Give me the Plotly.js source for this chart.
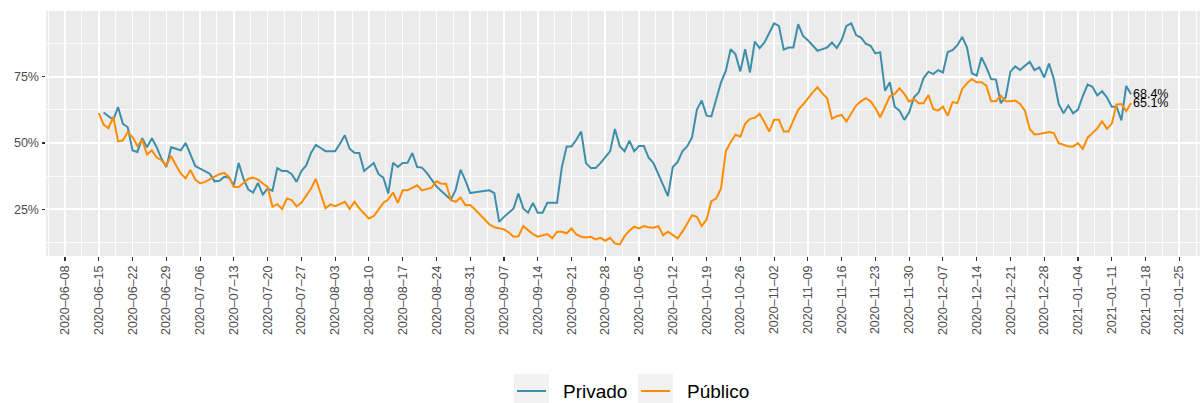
<!DOCTYPE html>
<html>
<head>
<meta charset="utf-8">
<script src="https://cdn.plot.ly/plotly-3.0.1.min.js"></script>
<style>html,body{margin:0;padding:0;background:#fff;}#chart{width:1200px;height:403px;}</style>
</head>
<body>
<div id="chart"></div>
<script>
// ---- data (values in %) ----
const publicoStart = '2020-06-15';
const publicoValues = [
61.3,56.9,55.6,59.8,50.6,51.0,54.1,52.2,48.9,51.2,45.6,47.2,44.5,43.5,41.4,45.1,41.6,38.5,36.6,39.8,
36.2,34.7,35.3,36.3,37.2,38.2,38.7,37.2,33.4,33.4,34.9,36.5,36.9,36.2,34.7,33.4,25.9,26.9,25.1,29.0,
28.4,26.1,27.4,30.3,32.8,36.4,30.9,25.3,26.8,26.1,26.9,27.8,25.1,27.8,25.3,23.4,21.5,22.4,24.9,27.4,
28.6,31.3,27.4,32.1,32.1,33.1,34.0,32.1,32.5,33.1,35.5,34.6,34.6,28.4,27.8,29.4,26.5,26.6,24.9,23.0,
20.9,19.2,18.2,17.8,17.4,16.2,14.6,14.8,18.6,17.1,15.6,14.6,15.2,15.6,14.0,16.5,16.5,15.9,17.7,15.5,
14.6,14.3,14.6,13.6,14.2,13.1,14.2,12.1,11.7,14.8,16.9,18.4,17.7,18.6,18.2,18.0,18.6,15.2,16.5,15.2,
14.0,16.5,19.4,22.7,22.1,18.6,21.1,28.0,29.0,32.8,46.9,50.3,53.1,52.4,57.2,59.1,59.5,61.0,57.8,54.3,
58.8,58.8,54.3,54.3,58.5,62.5,64.5,66.9,69.1,71.0,68.7,66.9,59.1,60.1,60.6,58.1,61.2,64.1,65.7,66.9,
65.7,63.2,59.7,63.5,67.6,68.5,70.6,68.5,65.6,66.6,65.0,65.0,68.1,62.8,62.2,63.7,60.3,65.4,65.0,70.4,
72.5,74.1,72.9,72.9,71.6,65.7,65.7,67.9,65.7,65.7,66.0,64.7,62.2,55.3,53.2,53.4,53.7,54.1,53.7,49.9,
49.3,48.7,48.7,49.9,47.8,52.0,53.7,55.5,58.2,55.3,57.2,64.5,64.7,62.0,65.1
];
const privadoStart = '2020-06-16';
const privadoValues = [
61.5,60.1,58.7,63.5,57.2,55.9,47.2,46.6,51.8,48.4,51.8,48.4,44.0,40.9,48.4,47.8,47.2,50.0,45.3,41.3,
40.3,39.4,38.4,35.5,35.7,37.2,36.9,34.0,42.4,36.5,32.4,31.3,34.9,30.5,32.8,31.9,40.5,39.4,39.4,38.2,
35.3,39.4,41.5,46.2,49.3,48.1,46.9,46.9,46.9,49.7,52.9,47.8,46.3,46.2,39.4,40.9,42.4,38.2,36.9,30.9,
42.5,40.9,42.4,42.5,46.2,40.9,40.7,38.7,35.9,33.6,31.9,30.3,28.6,32.4,39.9,35.9,31.1,31.4,31.6,31.9,
32.1,31.1,20.2,22.1,23.6,25.3,30.9,25.3,23.7,27.4,23.7,23.7,27.4,27.4,27.4,40.9,48.7,48.7,51.2,54.3,
42.4,40.5,40.5,42.4,44.7,46.8,55.3,48.8,46.9,50.9,46.9,48.8,48.8,44.4,42.4,38.4,34.0,29.9,40.9,42.8,
46.8,48.8,52.2,62.6,66.0,60.3,60.0,66.6,72.9,77.3,85.4,83.5,77.0,85.4,76.6,88.3,85.8,87.9,91.7,95.1,
94.2,85.2,86.0,86.0,94.8,90.4,88.8,86.7,84.8,85.4,86.0,87.9,85.8,88.8,94.2,95.1,90.7,89.8,87.5,86.7,
83.8,84.2,69.7,72.9,63.7,62.2,58.7,61.6,67.2,69.1,74.5,76.9,76.0,77.5,76.6,84.3,85.0,86.9,90.0,86.0,
76.3,75.4,82.3,78.5,74.1,73.9,65.0,67.2,76.9,78.9,77.5,79.1,80.6,77.5,78.5,74.7,80.0,74.1,64.7,61.2,
64.1,61.2,62.6,67.7,72.0,71.2,67.9,69.5,67.2,63.7,63.7,58.5,71.5,68.4
];
const seriesNames = ['Privado', 'Público'];
const seriesColors = ['#3e8eaa', '#ff8c00'];
const xTickDates = ['2020-06-08','2020-06-15','2020-06-22','2020-06-29','2020-07-06','2020-07-13','2020-07-20',
'2020-07-27','2020-08-03','2020-08-10','2020-08-17','2020-08-24','2020-08-31','2020-09-07','2020-09-14',
'2020-09-21','2020-09-28','2020-10-05','2020-10-12','2020-10-19','2020-10-26','2020-11-02','2020-11-09',
'2020-11-16','2020-11-23','2020-11-30','2020-12-07','2020-12-14','2020-12-21','2020-12-28','2021-01-04',
'2021-01-11','2021-01-18','2021-01-25'];
const yTickVals = [25, 50, 75];
const yTickText = ['25%', '50%', '75%'];

// ---- helpers ----
function dailyDates(start, n) {
  const out = [];
  const d0 = new Date(start + 'T00:00:00Z');
  for (let i = 0; i < n; i++) {
    const d = new Date(d0.getTime() + i * 86400000);
    out.push(d.toISOString().slice(0, 10));
  }
  return out;
}
const privadoDates = dailyDates(privadoStart, privadoValues.length);
const publicoDates = dailyDates(publicoStart, publicoValues.length);

const traces = [
  {x: privadoDates, y: privadoValues, type: 'scatter', mode: 'lines', name: seriesNames[0],
   line: {color: seriesColors[0], width: 2}, showlegend: false},
  {x: publicoDates, y: publicoValues, type: 'scatter', mode: 'lines', name: seriesNames[1],
   line: {color: seriesColors[1], width: 2}, showlegend: false}
];

const tickFont = {family: 'Liberation Sans, Arial, sans-serif', size: 12.5, color: '#4d4d4d'};

// legend geometry (paper coordinates)
const W = 1154, H = 245, L = 46, T = 11;
const px = x => (x - L) / W;
const py = y => (T + H - y) / H;

const layout = {
  width: 1200, height: 403,
  margin: {l: 46, r: 0, t: 11, b: 147},
  paper_bgcolor: '#ffffff',
  plot_bgcolor: '#ebebeb',
  showlegend: false,
  xaxis: {
    type: 'date',
    range: ['2020-06-04 01:18', '2021-01-29 07:12'],
    tickmode: 'array',
    tickvals: xTickDates,
    ticktext: xTickDates.map(s => s.replace(/-/g, '\u2013')),
    tickangle: -90,
    tickfont: tickFont,
    ticks: 'outside', ticklen: 3.5, tickwidth: 1.1, tickcolor: '#333333',
    showgrid: true, gridcolor: '#ffffff', gridwidth: 1.6,
    minor: {dtick: 7 * 86400000, tick0: '2020-06-11 12:00', showgrid: true, gridcolor: '#ffffff', gridwidth: 0.8, ticks: ''},
    zeroline: false, showline: false, fixedrange: true
  },
  yaxis: {
    range: [7.33, 99.8],
    tickmode: 'array',
    tickvals: yTickVals,
    ticktext: yTickText,
    tickfont: tickFont,
    ticks: 'outside', ticklen: 3.5, tickwidth: 1.1, tickcolor: '#333333',
    showgrid: true, gridcolor: '#ffffff', gridwidth: 1.6,
    minor: {tickmode: 'array', tickvals: [12.5, 37.5, 62.5, 87.5], showgrid: true, gridcolor: '#ffffff', gridwidth: 0.8, ticks: ''},
    zeroline: false, showline: false, fixedrange: true
  },
  annotations: [
    {x: privadoDates[privadoDates.length - 1], y: privadoValues[privadoValues.length - 1],
     text: privadoValues[privadoValues.length - 1].toFixed(1) + '%', showarrow: false,
     xanchor: 'left', yanchor: 'middle', xshift: 0,
     font: {family: 'Liberation Sans, Arial, sans-serif', size: 12.5, color: '#000000'}},
    {x: publicoDates[publicoDates.length - 1], y: publicoValues[publicoValues.length - 1],
     text: publicoValues[publicoValues.length - 1].toFixed(1) + '%', showarrow: false,
     xanchor: 'left', yanchor: 'middle', xshift: 0,
     font: {family: 'Liberation Sans, Arial, sans-serif', size: 12.5, color: '#000000'}},
    {xref: 'paper', yref: 'paper', x: px(561), y: py(391.5), text: seriesNames[0], showarrow: false,
     xanchor: 'left', yanchor: 'middle', font: {family: 'Liberation Sans, Arial, sans-serif', size: 19, color: '#000000'}},
    {xref: 'paper', yref: 'paper', x: px(685), y: py(391.5), text: seriesNames[1], showarrow: false,
     xanchor: 'left', yanchor: 'middle', font: {family: 'Liberation Sans, Arial, sans-serif', size: 19, color: '#000000'}}
  ],
  shapes: [
    {type: 'rect', xref: 'paper', yref: 'paper', x0: px(514), x1: px(549), y0: py(374), y1: py(404),
     fillcolor: '#f2f2f2', line: {width: 0}},
    {type: 'rect', xref: 'paper', yref: 'paper', x0: px(638), x1: px(673), y0: py(374), y1: py(404),
     fillcolor: '#f2f2f2', line: {width: 0}},
    {type: 'line', xref: 'paper', yref: 'paper', x0: px(517), x1: px(546), y0: py(391), y1: py(391),
     line: {color: seriesColors[0], width: 2}},
    {type: 'line', xref: 'paper', yref: 'paper', x0: px(641), x1: px(670), y0: py(391), y1: py(391),
     line: {color: seriesColors[1], width: 2}}
  ]
};

Plotly.newPlot('chart', traces, layout, {displayModeBar: false, staticPlot: true});
</script>
</body>
</html>
